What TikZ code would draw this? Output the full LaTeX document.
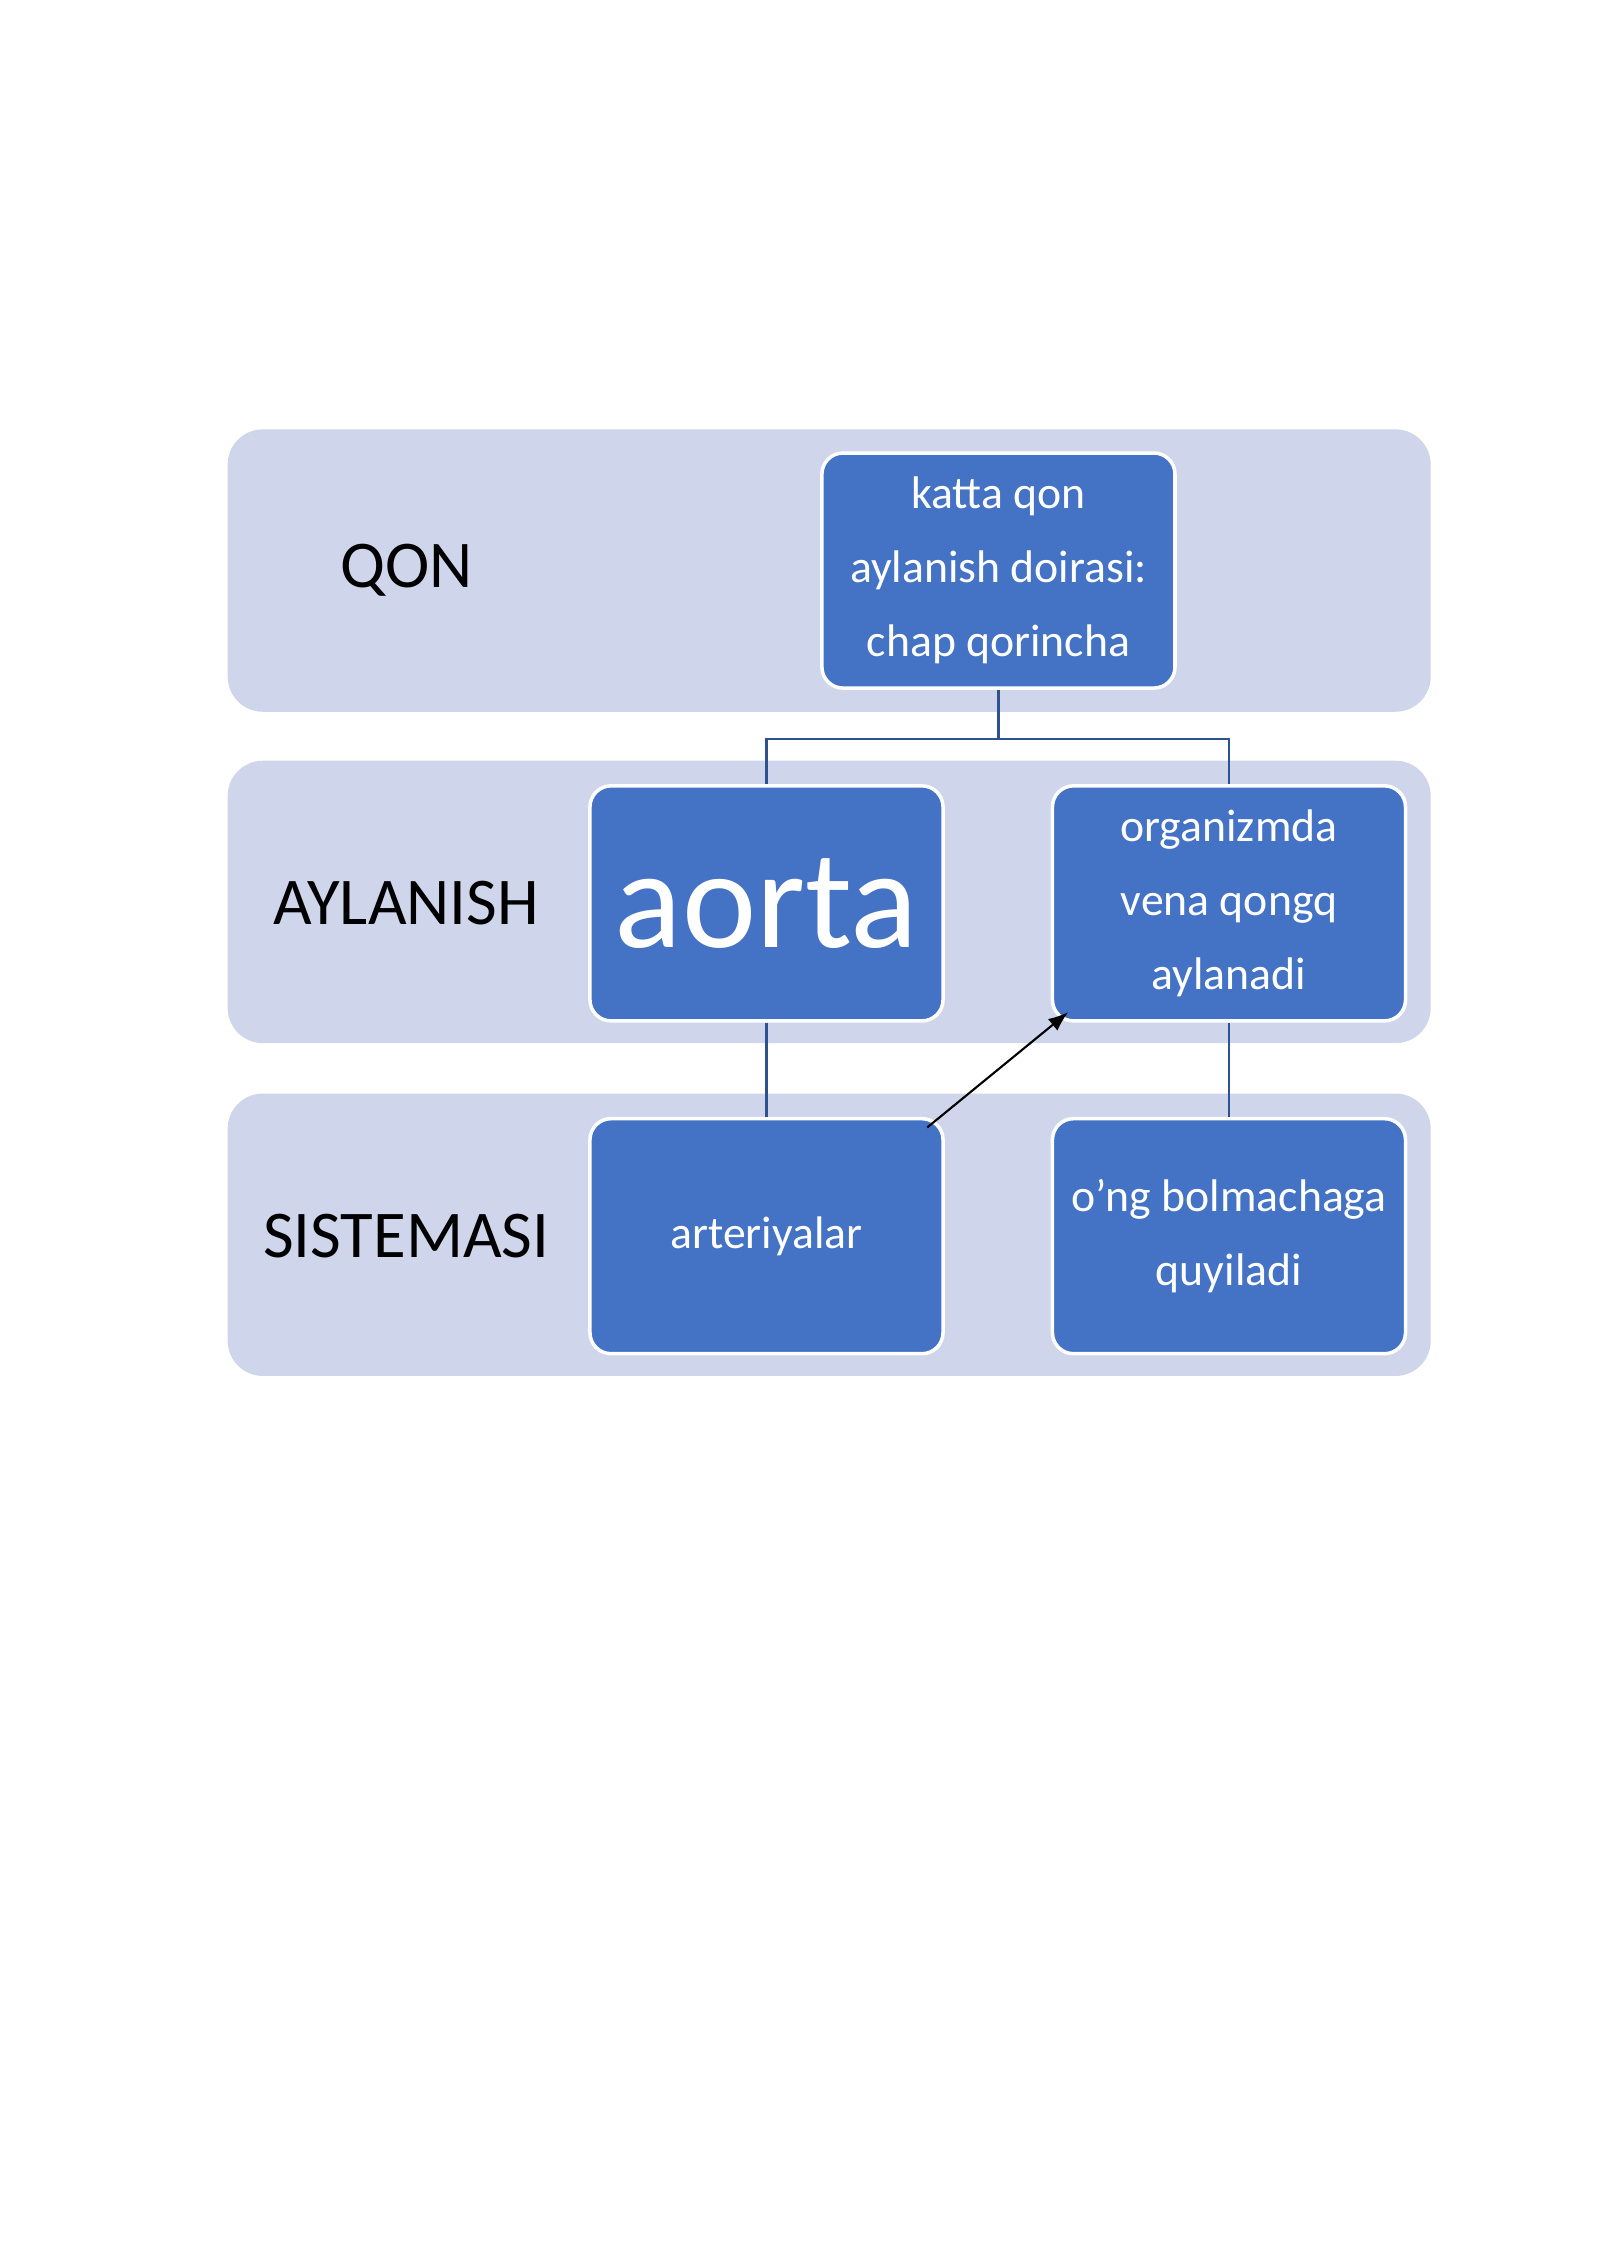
\documentclass[tikz,border=0pt]{standalone}
\usepackage{fontspec}
\setmainfont{Carlito}
\usetikzlibrary{arrows.meta}
\definecolor{bandfill}{HTML}{CFD5EA}
\definecolor{boxfill}{HTML}{4472C4}
\definecolor{linkcol}{HTML}{2F528F}
\tikzset{
  band/.style={fill=bandfill,draw=none,rounded corners=10pt},
  blue box/.style={fill=boxfill,draw=white,line width=1pt,rounded corners=6pt,
    minimum width=3.53cm,minimum height=2.35cm,text=white,align=center,
    font=\fontsize{13}{21}\selectfont},
  row label/.style={font=\fontsize{19}{23}\selectfont},
  link/.style={draw=linkcol,line width=0.6pt}
}
\begin{document}
\begin{tikzpicture}[x=0.01441cm,y=-0.01441cm]
\useasboundingbox (0,0) rectangle (1110,1570);
% bands
\fill[band] (158,298) rectangle (993,494);
\fill[band] (158,528) rectangle (993,724);
\fill[band] (158,759) rectangle (993,955);
\node[row label] (qon) at (282,396) {QON};
\node[row label] (aylanish) at (282,627) {AYLANISH};
\node[row label] (sistemasi) at (282,858) {SISTEMASI};
% boxes
\node[blue box] (chap) at (693,396) {katta qon\\aylanish doirasi:\\chap qorincha};
\node[blue box,font=\fontsize{40}{44}\selectfont] (aorta) at (532,627) {aorta};
\node[blue box] (vena) at (853,627) {organizmda\\vena qongq\\aylanadi};
\node[blue box] (arter) at (532,858) {arteriyalar};
\node[blue box] (bolm) at (853,858) {o'ng bolmachaga\\quyiladi};
% links
\draw[link] (chap.south) -- ++(0,34) -| (aorta.north);
\draw[link] (chap.south) -- ++(0,34) -| (vena.north);
\draw[link] (aorta.south) -- (arter.north);
\draw[link] (vena.south) -- (bolm.north);
\draw[-{Latex[length=2mm]},black,line width=0.6pt] ([xshift=-5pt,yshift=-3pt]arter.north east) -- ([xshift=5pt,yshift=3pt]vena.south west);
\end{tikzpicture}
\end{document}
